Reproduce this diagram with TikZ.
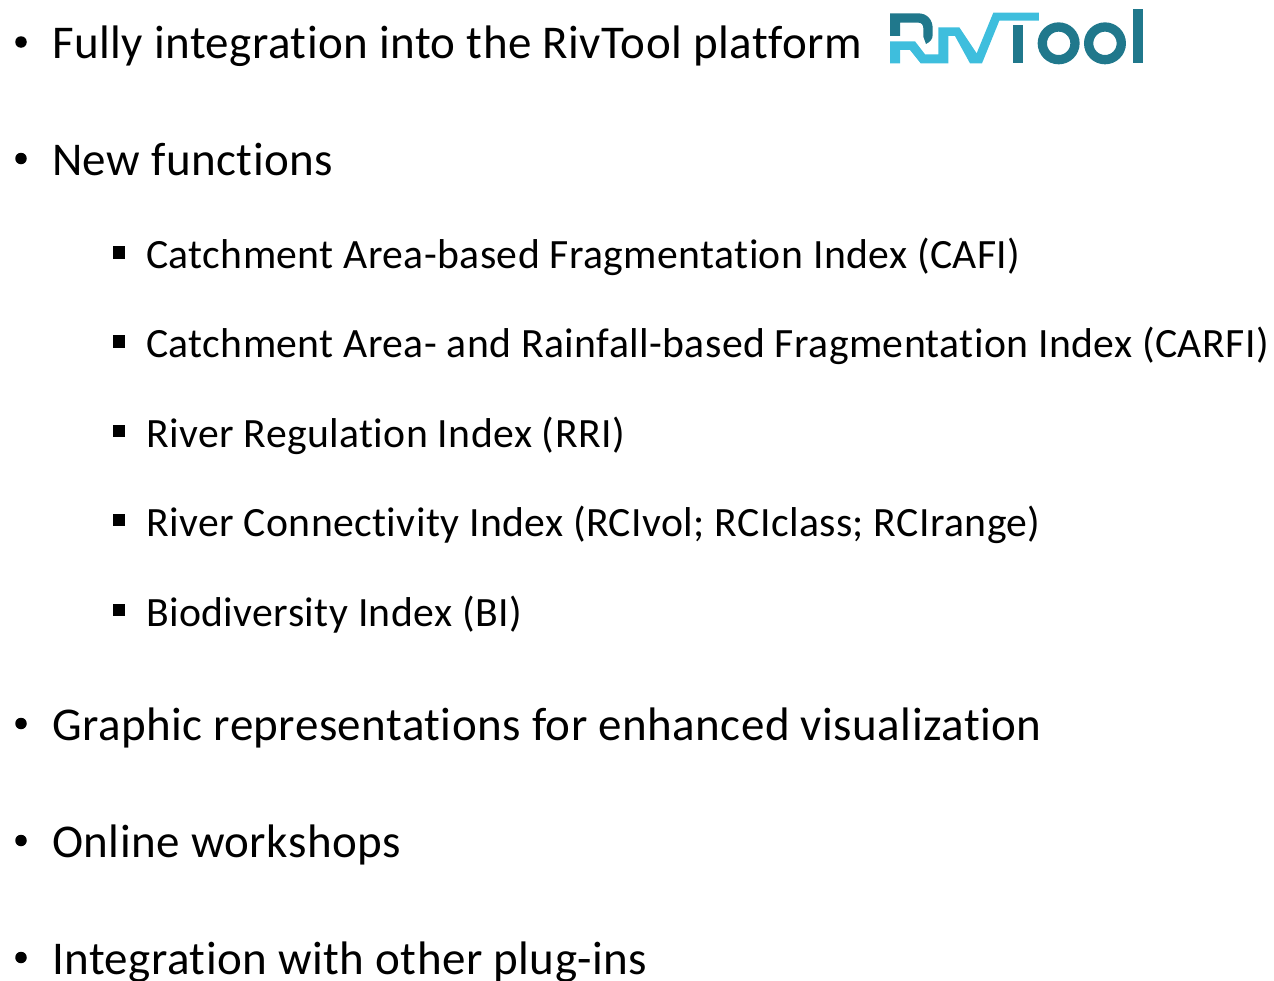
\documentclass[tikz,border=0pt]{standalone}
\usepackage{fontspec}
\setmainfont[Ligatures=NoCommon,LetterSpace=1.0]{Carlito}
\definecolor{logodark}{HTML}{20788C}
\definecolor{logolight}{HTML}{3EBEDD}
\tikzset{
 x=1pt,y=-1pt,
 main/.style={anchor=base west,inner sep=0pt,font=\fontsize{47}{50}\selectfont},
 sub/.style={anchor=base west,inner sep=0pt,font=\fontsize{41.7}{46}\selectfont},
 dot/.style={fill=black,circle,inner sep=0pt,minimum size=11.5pt},
 sq/.style={fill=black,inner sep=0pt,minimum size=12.5pt},
}
\begin{document}
\begin{tikzpicture}
\useasboundingbox (0,0) rectangle (1274,980);
\node[dot] (d1) at (21,42) {};
\node[dot] (d2) at (21,158.5) {};
\node[dot] (d3) at (21,723.5) {};
\node[dot] (d4) at (21,840.5) {};
\node[dot] (d5) at (21,957.5) {};
\node[main] (t1) at (52,58) {Fully integration into the RivTool platform};
\node[main] (t2) at (52,175) {New functions};
\node[main] (t3) at (52,740) {Graphic representations for enhanced visualization};
\node[main] (t4) at (52,857) {Online workshops};
\node[main] (t5) at (52,974) {Integration with other plug-ins};
\node[sq] (s1) at (119,252.3) {};
\node[sq] (s2) at (119,341.3) {};
\node[sq] (s3) at (119,431) {};
\node[sq] (s4) at (119,520) {};
\node[sq] (s5) at (119,610) {};
\node[sub] (u1) at (146,268) {Catchment Area-based Fragmentation Index (CAFI)};
\node[sub] (u2) at (146,357) {Catchment Area- and Rainfall-based Fragmentation Index (CARFI)};
\node[sub] (u3) at (146,447) {River Regulation Index (RRI)};
\node[sub] (u4) at (146,536) {River Connectivity Index (RCIvol; RCIclass; RCIrange)};
\node[sub] (u5) at (146,626) {Biodiversity Index (BI)};
\begin{scope}[shift={(870,0)},x=0.3333pt,y=-0.3333pt]
\fill[logodark] (60,40) -- (145,40) .. controls (172,40) and (188,60) .. (188,85) -- (188,105) .. controls (188,118) and (180,126) .. (168,132) -- (160,110) -- (160,85) .. controls (160,75) and (155,68) .. (145,68) -- (90,68) -- (90,108) -- (60,108) -- cycle;
\fill[logolight] (60,124) -- (135,124) -- (165,163) -- (205,163) -- (205,82) -- (268,82) -- (320,160) -- (370,38) -- (507,38) -- (507,62) -- (388,62) -- (336,190) -- (300,190) -- (255,108) -- (235,108) -- (235,190) -- (152,190) -- (120,150) -- (90,150) -- (90,190) -- (60,190) -- cycle;
\fill[logodark] (430,75) rectangle (458,190);
\draw[logodark,line width=9.3pt] (566,130) circle[radius=49];
\draw[logodark,line width=9.3pt] (705,130) circle[radius=49];
\fill[logodark] (790,28) rectangle (818,190);
\end{scope}
\end{tikzpicture}
\end{document}
